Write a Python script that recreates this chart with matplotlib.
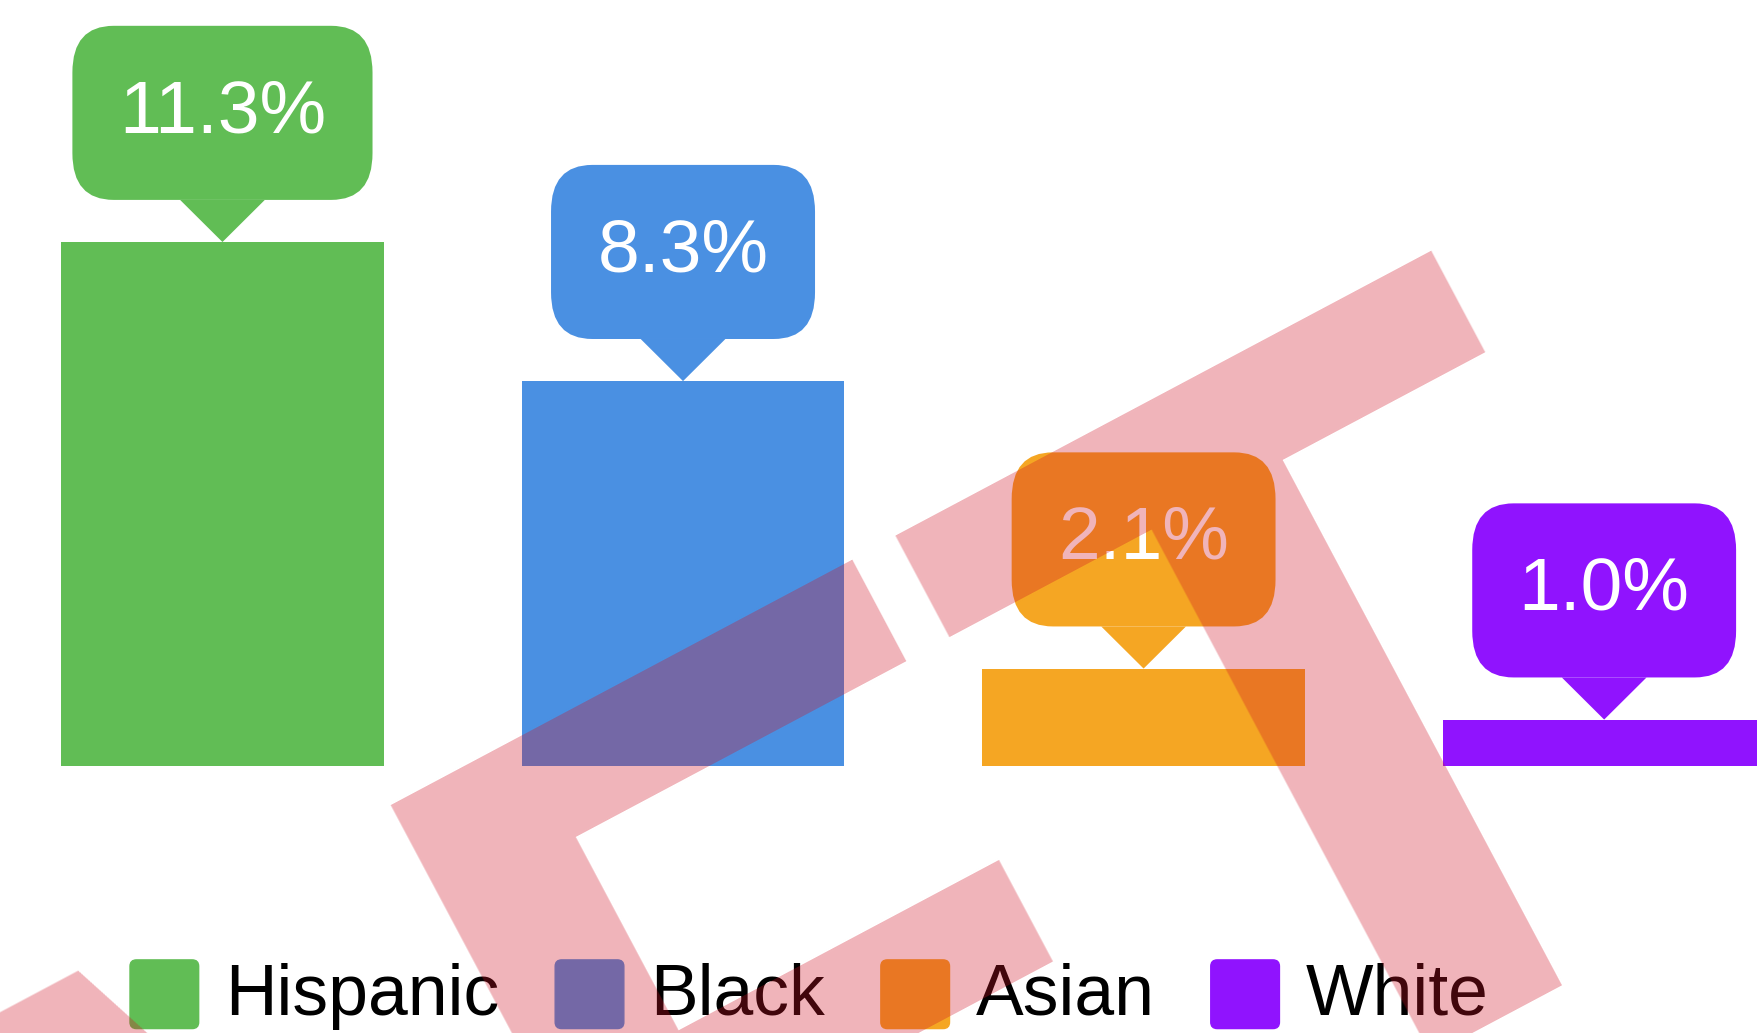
import matplotlib
matplotlib.use("Agg")
import matplotlib.pyplot as plt
from matplotlib.patches import Patch, FancyBboxPatch
from matplotlib.legend_handler import HandlerPatch

categories = ["Hispanic", "Black", "Asian", "White"]
values = [11.3, 8.3, 2.1, 1.0]
value_labels = ["11.3%", "8.3%", "2.1%", "1.0%"]
colors = ["#61bd55", "#4a90e2", "#f5a623", "#9013fe"]

plt.rcParams["font.family"] = ["Liberation Sans", "DejaVu Sans"]


def rounded_patch(legend, orig_handle, xdescent, ydescent, width, height, fontsize):
    # square swatch with slightly rounded corners
    return FancyBboxPatch((-xdescent, -ydescent - 0.1 * fontsize), width, width,
                          boxstyle="round,pad=0,rounding_size=%.2f" % (0.09 * fontsize))


fig = plt.figure(figsize=(17.58, 10.33), dpi=100)
ax = fig.add_axes([0, 0, 1, 1])
x = list(range(len(categories)))
ax.bar(x, values, width=0.7, color=colors)
ax.set_xlim(-0.483, 3.334)
ax.set_ylim(-5.76, 16.52)
ax.axis("off")

# callout bubbles above each bar
for i, (v, lab, c) in enumerate(zip(values, value_labels, colors)):
    ax.annotate(lab, xy=(i, v), xytext=(0, 93), textcoords="offset points",
                ha="center", va="center", fontsize=54, color="white",
                bbox=dict(boxstyle="round,pad=0.62,rounding_size=0.55", fc=c, ec="none",
                          mutation_aspect=1.13),
                arrowprops=dict(arrowstyle="wedge,tail_width=1.13,shrink_factor=0.5",
                                fc=c, ec="none", shrinkA=0, shrinkB=0))

handles = [Patch(color=c) for c in colors]
ax.legend(handles, categories, handler_map={Patch: HandlerPatch(patch_func=rounded_patch)},
          ncol=4, loc="lower left", bbox_to_anchor=(130 / 1758, 0.003),
          bbox_transform=fig.transFigure, frameon=False, fontsize=51.5,
          handlelength=0.96, handleheight=0.96, handletextpad=0.37,
          columnspacing=0.78, borderpad=0, borderaxespad=0)

# watermark
fig.text(1.005, 0.1874, "DRAFT", rotation=28, rotation_mode="anchor",
         ha="right", va="baseline", fontsize=742, fontweight="bold",
         family="Liberation Sans", color="#d01426", alpha=0.32, zorder=10)

fig.savefig("out.png", dpi=100)
